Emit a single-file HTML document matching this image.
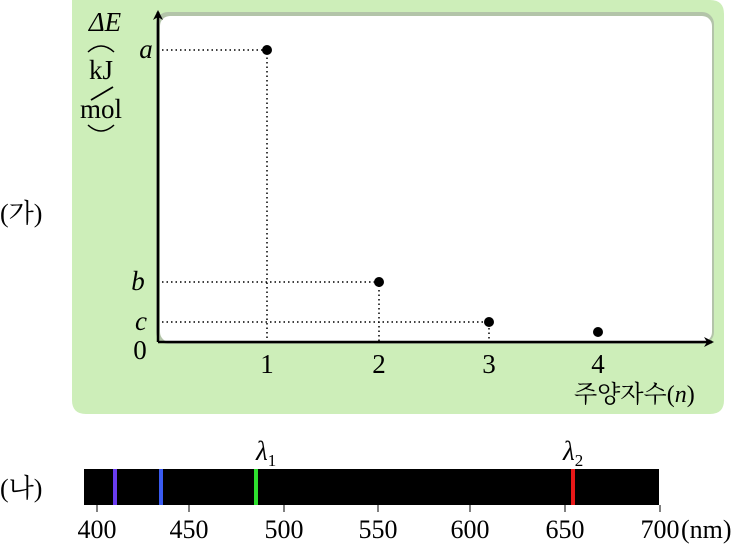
<!DOCTYPE html>
<html><head><style>
body{margin:0;background:#fff;width:732px;height:550px;overflow:hidden;font-family:"Liberation Serif","Noto Serif CJK SC",serif}
</style></head><body>
<svg width="732" height="550" xmlns="http://www.w3.org/2000/svg" font-family="Liberation Serif, Noto Serif CJK SC, serif">
<defs><marker id="ar" markerWidth="10" markerHeight="10" refX="8" refY="5" orient="auto" markerUnits="userSpaceOnUse"><path d="M0,0 L10,5 L0,10 L3,5 Z" fill="#000"/></marker></defs>
<path d="M72,0 H710 Q724,0 724,14 V400 Q724,414 710,414 H86 Q72,414 72,400 Z" fill="#cdeeb9"/>
<rect x="156" y="12" width="558" height="332" rx="12" fill="#999" opacity="0.5"/>
<rect x="160" y="16" width="552" height="326" rx="10" fill="#fff"/>
<line x1="158" y1="342" x2="158" y2="12" stroke="#000" stroke-width="2.5" marker-end="url(#ar)"/>
<line x1="158" y1="342" x2="712" y2="342" stroke="#000" stroke-width="2.5" marker-end="url(#ar)"/>
<g stroke="#000" stroke-width="1.5" stroke-dasharray="1.5,3" fill="none">
<path d="M162,50 H267 V342"/><path d="M162,282 H379 V342"/><path d="M162,322 H489 V342"/>
</g>
<g fill="#000"><circle cx="267" cy="50" r="5"/><circle cx="379" cy="282" r="5"/><circle cx="489" cy="322" r="5"/><circle cx="598" cy="332" r="5"/></g>
<g font-size="27" font-style="italic" text-anchor="middle">
<text x="146" y="58">a</text><text x="138" y="290">b</text><text x="141" y="330">c</text>
<text x="105" y="31">ΔE</text>
</g>
<g font-size="27" text-anchor="middle">
<text x="140" y="359">0</text>
<text x="101" y="79">kJ</text>
<text x="101" y="118">mol</text>
<text x="267" y="373">1</text><text x="379" y="373">2</text><text x="489" y="373">3</text><text x="598" y="373">4</text>
</g>
<path d="M88,52 Q101,40 114,52" stroke="#000" fill="none" stroke-width="1.5"/>
<path d="M88,125 Q101,137 114,125" stroke="#000" fill="none" stroke-width="1.5"/>
<line x1="91" y1="100" x2="113" y2="87" stroke="#000" stroke-width="1.8"/>
<text x="574" y="402" font-size="24">주양자수(<tspan font-style="italic">n</tspan>)</text>
<text x="0" y="222" font-size="26">(가)</text>
<text x="0" y="497" font-size="26">(나)</text>
<rect x="84" y="469" width="575" height="36" fill="#000"/>
<rect x="113" y="469" width="4" height="36" fill="#6a3cf0"/>
<rect x="159" y="469" width="4" height="36" fill="#3a5bf0"/>
<rect x="254" y="469" width="4" height="36" fill="#2ee02e"/>
<rect x="571" y="469" width="4" height="36" fill="#e81818"/>
<g stroke="#000" stroke-width="1"><line x1="97" y1="505" x2="97" y2="512"/><line x1="189" y1="505" x2="189" y2="512"/><line x1="284" y1="505" x2="284" y2="512"/><line x1="378" y1="505" x2="378" y2="512"/><line x1="470" y1="505" x2="470" y2="512"/><line x1="565" y1="505" x2="565" y2="512"/><line x1="660" y1="505" x2="660" y2="512"/></g>
<g font-size="26" text-anchor="middle"><text x="97" y="538">400</text><text x="189" y="538">450</text><text x="284" y="538">500</text><text x="378" y="538">550</text><text x="470" y="538">600</text><text x="565" y="538">650</text><text x="660" y="538">700</text></g>
<text x="681" y="538" font-size="26">(nm)</text>
<text x="256" y="460" font-size="27" font-style="italic">λ<tspan font-size="17" font-style="normal" dy="6">1</tspan></text>
<text x="563" y="460" font-size="27" font-style="italic">λ<tspan font-size="17" font-style="normal" dy="6">2</tspan></text>
</svg>
</body></html>
